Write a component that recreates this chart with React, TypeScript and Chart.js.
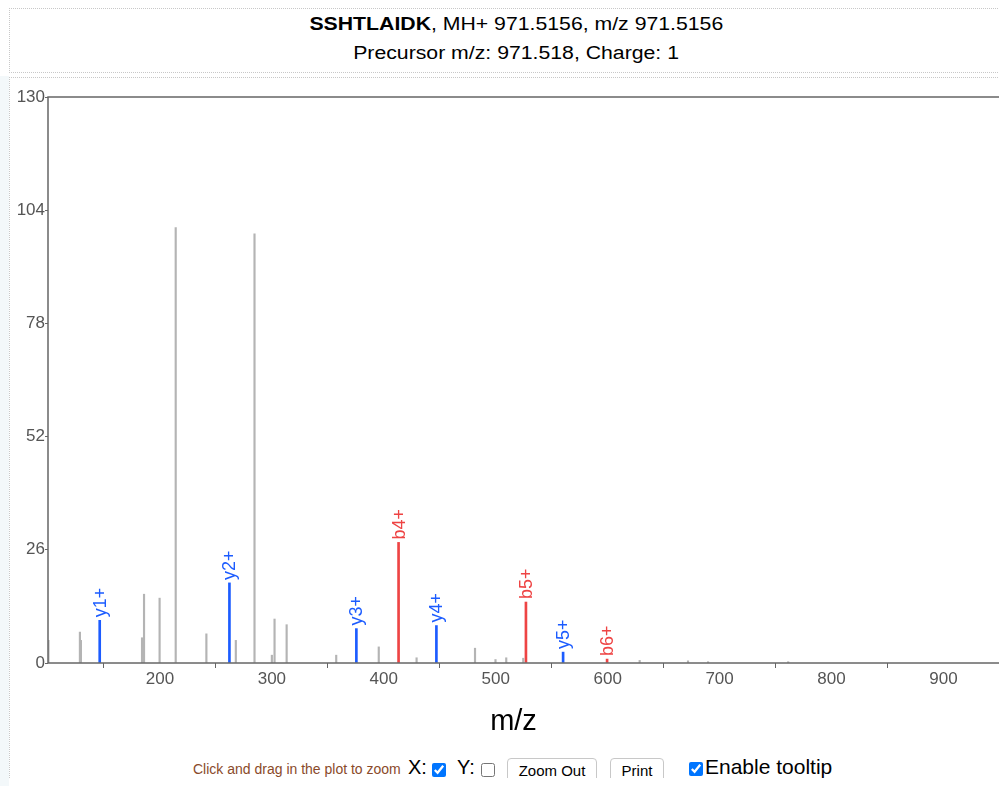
import React, { useEffect, useRef } from "react";
import { Chart, registerables } from "chart.js";

Chart.register(...registerables);

// Unassigned peaks
const grayMz = [100.4, 128.5, 129.4, 184.0, 185.8, 199.7, 214.1, 241.5, 267.8, 284.5, 300.0, 302.4, 313.2, 357.5, 395.5, 429.3, 481.5, 499.8, 509.4, 524.6, 628.6, 671.8, 689.7, 761.3];
const grayInt = [5.2, 7.1, 5.2, 5.8, 15.8, 14.9, 100.0, 6.7, 5.2, 98.6, 1.8, 10.1, 8.8, 1.8, 3.7, 1.2, 3.4, 0.8, 1.2, 1.1, 0.6, 0.5, 0.3, 0.3];

// y ions
const yIonMz = [146.2, 262.1, 375.5, 447.0, 560.2];
const yIonInt = [9.8, 18.4, 7.9, 8.6, 2.5];
const yIonLabels = ["y1+", "y2+", "y3+", "y4+", "y5+"];

// b ions
const bIonMz = [413.2, 527.0, 599.5];
const bIonInt = [27.7, 14.0, 0.9];
const bIonLabels = ["b4+", "b5+", "b6+"];

const yTicks = [0, 26, 52, 78, 104, 130];
const xTicks = [200, 300, 400, 500, 600, 700, 800, 900];

const BLUE = "#1c5cff";
const RED = "#ee4444";
const GRAY = "#b4b4b4";
const FONT = '"Liberation Sans", Arial, sans-serif';

const toPts = (xs: number[], ys: number[]) => xs.map((x, i) => ({ x, y: ys[i] }));

const framePlugin = {
  id: "frame",
  afterDatasetsDraw(chart: any) {
    const { ctx, chartArea } = chart;
    ctx.save();
    ctx.strokeStyle = "#666";
    ctx.lineWidth = 1.5;
    ctx.strokeRect(chartArea.left, chartArea.top, chartArea.right - chartArea.left, chartArea.bottom - chartArea.top);
    ctx.restore();
  },
};

const labelPlugin = {
  id: "ionLabels",
  afterDatasetsDraw(chart: any) {
    const { ctx } = chart;
    chart.data.datasets.forEach((ds: any, di: number) => {
      if (!ds.ionLabels) return;
      const meta = chart.getDatasetMeta(di);
      meta.data.forEach((el: any, i: number) => {
        ctx.save();
        ctx.translate(el.x, el.y - 3);
        ctx.rotate(-Math.PI / 2);
        ctx.fillStyle = ds.backgroundColor;
        ctx.font = "18px " + FONT;
        ctx.textAlign = "left";
        ctx.textBaseline = "middle";
        ctx.fillText(ds.ionLabels[i], 0, 1);
        ctx.restore();
      });
    });
  },
};

export default function App() {
  const ref = useRef<HTMLCanvasElement>(null);
  useEffect(() => {
    if (!ref.current) return;
    const chart = new Chart(ref.current, {
      type: "bar",
      data: {
        datasets: [
          { data: toPts(grayMz, grayInt), backgroundColor: GRAY, barThickness: 1.5, grouped: false } as any,
          { data: toPts(yIonMz, yIonInt), backgroundColor: BLUE, barThickness: 2, grouped: false, ionLabels: yIonLabels } as any,
          { data: toPts(bIonMz, bIonInt), backgroundColor: RED, barThickness: 2, grouped: false, ionLabels: bIonLabels } as any,
        ],
      },
      options: {
        animation: false,
        responsive: false,
        layout: { padding: { top: 17, right: 2, left: 0, bottom: 0 } },
        plugins: { legend: { display: false }, tooltip: { enabled: false } },
        scales: {
          x: {
            type: "linear",
            min: 100,
            max: 955,
            offset: false,
            border: { display: false },
            grid: { drawOnChartArea: false, drawTicks: true, tickLength: 5, color: "#666", lineWidth: 1 },
            afterBuildTicks: (s: any) => { s.ticks = xTicks.map((v) => ({ value: v })); },
            afterFit: (s: any) => { s.height = 30; },
            ticks: { color: "#555", font: { size: 17, family: FONT }, padding: 1, maxRotation: 0 },
          },
          y: {
            min: 0,
            max: 130,
            border: { display: false },
            grid: { drawOnChartArea: false, drawTicks: true, tickLength: 3, color: "#666", lineWidth: 1 },
            afterBuildTicks: (s: any) => { s.ticks = yTicks.map((v) => ({ value: v })); },
            afterFit: (s: any) => { s.width = 40; },
            ticks: { color: "#555", font: { size: 17, family: FONT }, padding: 0 },
          },
        },
      } as any,
      plugins: [framePlugin, labelPlugin],
    });
    return () => chart.destroy();
  }, []);

  const abs = (x: number, y: number): React.CSSProperties => ({ position: "absolute", left: x - 8, top: y - 8 });
  const wide = (sx: number): React.CSSProperties => ({ display: "inline-block", transform: `scaleX(${sx})`, transformOrigin: "center" });

  return (
    <div style={{ position: "relative", width: 999, height: 770, fontFamily: FONT }}>
      <div style={{ position: "fixed", left: 0, top: 76, width: 9, height: 720, background: "#f3f8fa" }} />
      <div style={{ position: "absolute", left: 1, top: 0, width: 990, height: 63, borderTop: "1px dotted #c8c8c8", borderLeft: "1px dotted #c8c8c8", borderBottom: "1px dotted #c8c8c8" }} />
      <div style={{ position: "absolute", left: 1, top: 69, width: 990, height: 700, borderTop: "1px dotted #c8c8c8", borderLeft: "1px dotted #c8c8c8" }} />
      <div style={{ position: "absolute", left: 0, top: 2, width: 1016, textAlign: "center", fontSize: 18, lineHeight: "29px", color: "#000" }}>
        <div><span style={wide(1.18)}><b>SSHTLAIDK</b>, MH+ 971.5156, m/z 971.5156</span></div>
        <div><span style={wide(1.18)}>Precursor m/z: 971.518, Charge: 1</span></div>
      </div>
      <canvas ref={ref} width={999} height={613} style={{ position: "absolute", left: 0, top: 72, width: 999, height: 613 }} />
      <div style={{ position: "absolute", left: 0, top: 698, width: 1011, textAlign: "center", fontSize: 29, lineHeight: "29px", color: "#000" }}>m/z</div>
      <div style={{ ...abs(193, 761), fontSize: 14, color: "#8a4a2a", whiteSpace: "nowrap" }}>Click and drag in the plot to zoom</div>
      <div style={{ ...abs(408, 756), fontSize: 20, whiteSpace: "nowrap" }}>X:</div>
      <input type="checkbox" defaultChecked style={{ ...abs(432, 763), margin: 0, width: 14, height: 14 }} />
      <div style={{ ...abs(457, 756), fontSize: 20, whiteSpace: "nowrap" }}>Y:</div>
      <input type="checkbox" style={{ ...abs(481, 763), margin: 0, width: 14, height: 14 }} />
      <button style={{ ...abs(507, 758), width: 90, height: 24, fontSize: 15, fontFamily: FONT, background: "#fff", border: "1px solid #c8c8c8", borderRadius: 4, padding: 0 }}>Zoom Out</button>
      <button style={{ ...abs(610, 758), width: 54, height: 24, fontSize: 15, fontFamily: FONT, background: "#fff", border: "1px solid #c8c8c8", borderRadius: 4, padding: 0 }}>Print</button>
      <input type="checkbox" defaultChecked style={{ ...abs(689, 762), margin: 0, width: 14, height: 14 }} />
      <div style={{ ...abs(705, 755), fontSize: 21, whiteSpace: "nowrap" }}>Enable tooltip</div>
    </div>
  );
}
